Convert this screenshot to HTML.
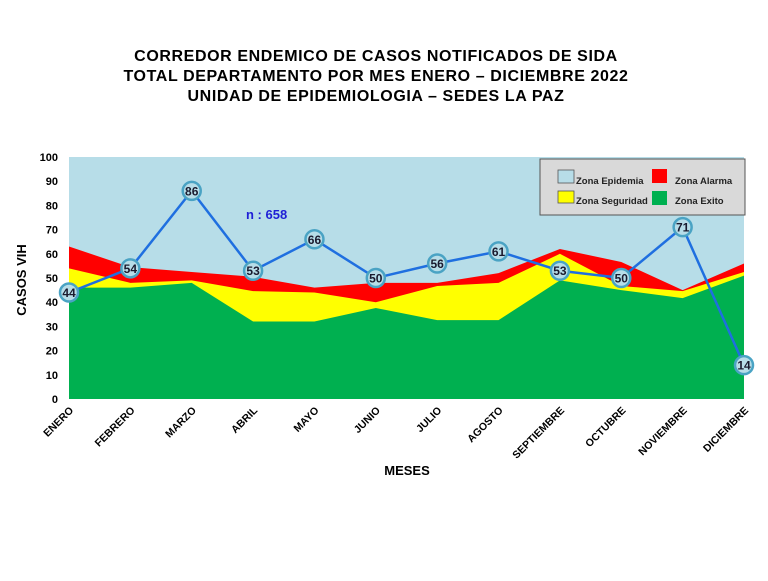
<!DOCTYPE html>
<html><head><meta charset="utf-8"><style>
body{margin:0;background:#fff;}
text{font-family:"Liberation Sans",Arial,sans-serif;}
</style></head><body>
<svg id="chart" width="768" height="576" xmlns="http://www.w3.org/2000/svg">
<g font-weight="bold" font-size="16" text-anchor="middle" fill="#000" letter-spacing="0.6" style="white-space:pre">
<text x="376" y="61">CORREDOR  ENDEMICO  DE CASOS NOTIFICADOS  DE SIDA</text>
<text x="376" y="81">TOTAL DEPARTAMENTO  POR MES ENERO – DICIEMBRE  2022</text>
<text x="376" y="101">UNIDAD  DE EPIDEMIOLOGIA  – SEDES LA PAZ</text>
</g>
<g id="plot"></g>
<text transform="translate(26,280) rotate(-90)" text-anchor="middle" font-weight="bold" font-size="13">CASOS VIH</text>
<text x="407" y="475" text-anchor="middle" font-weight="bold" font-size="13">MESES</text>
<text x="246" y="219" font-weight="bold" font-size="13" fill="#1f1fd6">n : 658</text>
<g>
<rect x="540" y="159" width="205" height="56" fill="#d9d9d9" stroke="#555" stroke-width="1"/>
<rect x="558" y="170" width="16" height="13" fill="#b7dde8" stroke="#555" stroke-width="0.8"/>
<text x="576" y="184" font-size="9.5" font-weight="bold" fill="#222">Zona Epidemia</text>
<rect x="652" y="169" width="15" height="14" fill="#ff0000"/>
<text x="675" y="184" font-size="9.5" font-weight="bold" fill="#222">Zona Alarma</text>
<rect x="558" y="191" width="16" height="12" fill="#ffff00" stroke="#555" stroke-width="0.8"/>
<text x="576" y="204" font-size="9.5" font-weight="bold" fill="#222">Zona Seguridad</text>
<rect x="652" y="191" width="15" height="14" fill="#00b050"/>
<text x="675" y="204" font-size="9.5" font-weight="bold" fill="#222">Zona Exito</text>
</g>
</svg>
<script>
const months=["ENERO","FEBRERO","MARZO","ABRIL","MAYO","JUNIO","JULIO","AGOSTO","SEPTIEMBRE","OCTUBRE","NOVIEMBRE","DICIEMBRE"];
const exito=[46,46,48,32,32,37.6,32.6,32.6,49,45,41.7,51];
const seguridad=[54,48,49,44.6,44,40,46.7,48,60,46.7,44.6,52.5];
const alarma=[63,54.5,52.5,50.5,46,48,48,52,62,56.6,45,56];
const casos=[44,54,86,53,66,50,56,61,53,50,71,14];
const yTicks=[0,10,20,30,40,50,60,70,80,90,100];
const NS="http://www.w3.org/2000/svg";
const x0=69,x1=744,yb=399,yt=157;
const xs=i=>x0+i*(x1-x0)/(months.length-1);
const ys=v=>yb-(v/100)*(yb-yt);
const g=document.getElementById('plot');
function mk(t,a){const e=document.createElementNS(NS,t);for(const k in a)e.setAttribute(k,a[k]);g.appendChild(e);return e;}
let bg=mk('rect',{x:x0,y:yt,width:x1-x0,height:yb-yt,fill:'#b7dde8'});


function area(arr,fill,name){
 let d='M'+x0+','+yb;
 arr.forEach((v,i)=>d+=' L'+xs(i)+','+ys(v));
 d+=' L'+x1+','+yb+' Z';
 const p=mk('path',{d:d,fill:fill});
 
 
}
area(alarma,'#ff0000','zona-alarma-area');
area(seguridad,'#ffff00','zona-seguridad-area');
area(exito,'#00b050','zona-exito-area');
yTicks.forEach(v=>{
 const t=mk('text',{x:x0-11,y:ys(v)+4,'text-anchor':'end','font-size':11,'font-weight':'bold'});
 t.textContent=v;
 
 
});
months.forEach((m,i)=>{
 const t=mk('text',{transform:`translate(${xs(i)+5},${yb+12}) rotate(-45)`,'text-anchor':'end','font-size':10.5,'font-weight':'bold'});
 t.textContent=m;
 
 
});
let d='';
casos.forEach((v,i)=>d+=(i?' L':'M')+xs(i)+','+ys(v));
const ln=mk('path',{d:d,fill:'none',stroke:'#1f6fe0','stroke-width':2.5});


casos.forEach((v,i)=>{
 const c=mk('circle',{cx:xs(i),cy:ys(v),r:9,fill:'#b7dde8',stroke:'#4aa3c4','stroke-width':2.5});
 
 
 const t=mk('text',{x:xs(i),y:ys(v)+4.5,'text-anchor':'middle','font-size':12,'font-weight':'bold',fill:'#1a1a2e'});
 t.textContent=v;
 
 
});
</script>
</body></html>
